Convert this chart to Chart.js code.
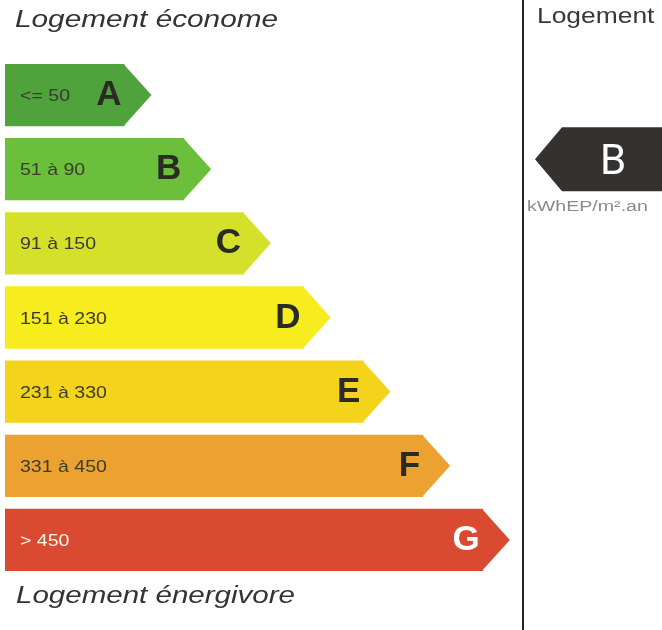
<!DOCTYPE html>
<html>
<head>
<meta charset="utf-8">
<script src="https://cdn.jsdelivr.net/npm/chart.js@4.4.0/dist/chart.umd.min.js"></script>
<style>
  html, body { margin: 0; padding: 0; background: #fff; }
  #wrap { width: 662px; height: 630px; }
</style>
</head>
<body>
<div id="wrap"><canvas id="dpe" width="662" height="630"></canvas></div>
<script>
// energy classes, top (economical) to bottom (energy hungry)
const classes = ["A", "B", "C", "D", "E", "F", "G"];
const ranges = ["<= 50", "51 à 90", "91 à 150", "151 à 230", "231 à 330", "331 à 450", "> 450"];
// relative band length of each arrow
const barLength = [2, 3, 4, 5, 6, 7, 8];
const barColors = ["#4fa23c", "#6bbf3b", "#d5e02b", "#f6ec1e", "#f4d31b", "#eba231", "#da4a30"];
const letterColors = ["#2b2b25", "#2b2b25", "#2b2b25", "#2b2b25", "#2b2b25", "#2b2b25", "#ffffff"];
const rangeColors = ["#3b3b30", "#3b3b30", "#3b3b30", "#3b3b30", "#3b3b30", "#3b3b30", "#fff6ee"];
const currentClass = "B";
const unitLabel = "kWhEP/m².an";
const topTitle = "Logement économe";
const bottomTitle = "Logement énergivore";
const rightTitle = "Logement";

function stretchText(ctx, text, x, y, sx) {
  ctx.save();
  ctx.translate(x, y);
  ctx.scale(sx, 1);
  ctx.fillText(text, 0, 0);
  ctx.restore();
}

const dpePlugin = {
  id: "dpe",
  afterDatasetsDraw(chart) {
    const ctx = chart.ctx;
    const meta = chart.getDatasetMeta(0);
    ctx.save();
    meta.data.forEach((bar, i) => {
      const h = bar.height;
      const top = bar.y - h / 2;
      // arrow tip
      ctx.fillStyle = barColors[i];
      ctx.beginPath();
      ctx.moveTo(bar.x - 1, top);
      ctx.lineTo(bar.x + 27, bar.y);
      ctx.lineTo(bar.x - 1, top + h);
      ctx.closePath();
      ctx.fill();

      // class letter
      ctx.fillStyle = letterColors[i];
      ctx.font = "bold 35px 'Liberation Sans', Arial, sans-serif";
      ctx.textAlign = "right";
      ctx.textBaseline = "alphabetic";
      ctx.fillText(classes[i], bar.x - 3, bar.y + 10);

      // range label
      ctx.fillStyle = rangeColors[i];
      ctx.font = "17px 'Liberation Sans', Arial, sans-serif";
      ctx.textAlign = "left";
      stretchText(ctx, ranges[i], 20, bar.y + 6, 1.15);
    });
    ctx.restore();
  },
  afterDraw(chart) {
    const ctx = chart.ctx;
    const yScale = chart.scales.y;
    ctx.save();

    // titles
    ctx.fillStyle = "#333";
    ctx.textAlign = "left";
    ctx.textBaseline = "alphabetic";
    ctx.font = "italic 24px 'Liberation Sans', Arial, sans-serif";
    stretchText(ctx, topTitle, 15, 27, 1.24);
    stretchText(ctx, bottomTitle, 16, 603, 1.23);

    // separator
    ctx.strokeStyle = "#222";
    ctx.lineWidth = 2;
    ctx.beginPath();
    ctx.moveTo(523, 0);
    ctx.lineTo(523, 630);
    ctx.stroke();

    // right column
    ctx.fillStyle = "#3d3535";
    ctx.font = "22px 'Liberation Sans', Arial, sans-serif";
    stretchText(ctx, rightTitle, 537, 23, 1.2);

    const y = yScale.getPixelForValue(classes.indexOf(currentClass)) - 10;
    ctx.fillStyle = "#333230";
    ctx.beginPath();
    ctx.moveTo(535, y);
    ctx.lineTo(562, y - 32);
    ctx.lineTo(662, y - 32);
    ctx.lineTo(662, y + 32);
    ctx.lineTo(562, y + 32);
    ctx.closePath();
    ctx.fill();

    ctx.fillStyle = "#fff";
    ctx.font = "42px Roboto, 'Liberation Sans', sans-serif";
    ctx.textAlign = "center";
    ctx.fillText(currentClass, 613, y + 15);

    ctx.fillStyle = "#8a8a8a";
    ctx.font = "14px 'Liberation Sans', Arial, sans-serif";
    ctx.textAlign = "left";
    stretchText(ctx, unitLabel, 527, y + 52, 1.4);

    ctx.restore();
  }
};

new Chart(document.getElementById("dpe"), {
  type: "bar",
  data: {
    labels: classes,
    datasets: [{
      data: barLength,
      backgroundColor: barColors,
      borderWidth: 0,
      categoryPercentage: 1,
      barPercentage: 0.84
    }]
  },
  options: {
    indexAxis: "y",
    responsive: false,
    animation: false,
    layout: { padding: { top: 58, bottom: 53, left: 5, right: 0 } },
    scales: {
      x: { display: false, min: 0, max: 11 },
      y: { display: false }
    },
    plugins: {
      legend: { display: false },
      tooltip: { enabled: false }
    }
  },
  plugins: [dpePlugin]
});
</script>
</body>
</html>
